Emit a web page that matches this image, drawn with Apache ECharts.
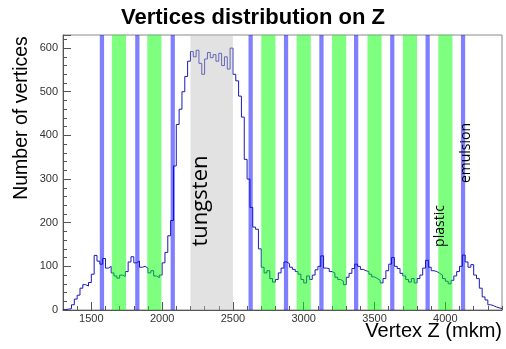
<!DOCTYPE html>
<html>
<head>
<meta charset="utf-8">
<script src="https://cdn.jsdelivr.net/npm/echarts@6/dist/echarts.min.js"></script>
<style>
  html, body { margin: 0; padding: 0; background: #fff; }
  #chart { width: 506px; height: 349px; }
</style>
</head>
<body>
<div id="chart"></div>
<script>
// histogram: bins of 20 mkm starting at 1300
const binLow = 1300;
const binWidth = 20;
const counts = [
  1, 2, 3, 12, 25, 34, 50, 58, 55, 63,
  82, 125, 112, 105, 118, 96, 100, 85, 78, 73,
  80, 77, 88, 110, 122, 108, 112, 98, 100, 96,
  85, 90, 78, 74, 80, 108, 132, 170, 205, 330,
  425, 460, 500, 535, 570, 592, 580, 595, 565, 540,
  575, 590, 578, 585, 570, 588, 560, 580, 552, 600,
  540, 525, 490, 442, 345, 300, 235, 190, 185, 140,
  98, 85, 90, 72, 64, 70, 85, 96, 110, 106,
  98, 93, 88, 82, 70, 62, 78, 70, 80, 92,
  100, 124, 96, 95, 88, 85, 75, 70, 66, 58,
  75, 84, 95, 105, 100, 93, 90, 88, 82, 76,
  72, 68, 62, 72, 90, 105, 120, 100, 95, 84,
  78, 70, 64, 72, 62, 72, 80, 96, 114, 98,
  90, 88, 84, 80, 72, 66, 60, 68, 78, 88,
  100, 126, 110, 98, 104, 80, 72, 50, 30, 23,
  12, 10, 7, 5, 3
];

// target layers (mkm)
const emulsion = [
  [1560, 1590], [1810, 1840], [2060, 2090], [2610, 2640], [2860, 2890],
  [3110, 3140], [3355, 3385], [3610, 3640], [3860, 3890], [4110, 4140]
];
const plastic = [
  [1645, 1745], [1895, 1995], [2700, 2800], [2950, 3050],
  [3200, 3300], [3450, 3550], [3700, 3800], [3950, 4050]
];
const tungsten = [[2200, 2500]];

const xLabels = [1500, 2000, 2500, 3000, 3500, 4000];
const xMinor = [];
for (let v = 1300; v <= 4400; v += 100) xMinor.push(v);

// step histogram points
const histData = counts.map((c, i) => [binLow + i * binWidth, c]);
histData.push([binLow + counts.length * binWidth, counts[counts.length - 1]]);

const bands = []
  .concat(tungsten.map(b => [b[0], b[1], 0]))
  .concat(plastic.map(b => [b[0], b[1], 1]))
  .concat(emulsion.map(b => [b[0], b[1], 2]));
const bandColors = ['rgba(190,190,190,0.45)', 'rgba(0,255,0,0.5)', 'rgba(0,0,255,0.5)'];

const yMax = 630;
let myChart = echarts.init(document.getElementById('chart'));
myChart.setOption({
  animation: false,
  title: {
    text: 'Vertices distribution on Z',
    left: 'center',
    top: 2,
    textStyle: {
      fontFamily: 'Liberation Sans',
      fontWeight: 'bold',
      fontSize: 22,
      color: '#000'
    }
  },
  grid: {
    left: 63,
    right: 4,
    top: 35,
    bottom: 39,
    show: true,
    borderColor: '#8a8a8a',
    borderWidth: 1
  },
  xAxis: [
    {
      type: 'value',
      min: 1300,
      max: 4400,
      axisLine: { show: true, lineStyle: { color: '#555' } },
      axisTick: {
        show: true,
        inside: true,
        length: 8,
        customValues: xLabels,
        lineStyle: { color: '#555' }
      },
      axisLabel: {
        customValues: xLabels,
        formatter: v => String(v),
        margin: 3,
        fontFamily: 'Liberation Sans',
        fontSize: 11,
        color: '#333'
      },
      splitLine: { show: false }
    },
    {
      type: 'value',
      min: 1300,
      max: 4400,
      position: 'bottom',
      axisLine: { show: false },
      axisTick: {
        show: true,
        inside: true,
        length: 4,
        customValues: xMinor,
        lineStyle: { color: '#555' }
      },
      axisLabel: { show: false },
      splitLine: { show: false }
    }
  ],
  yAxis: {
    type: 'value',
    min: 0,
    max: yMax,
    interval: 100,
    axisLine: { show: true, lineStyle: { color: '#555' } },
    axisTick: { show: true, inside: true, length: 8, lineStyle: { color: '#555' } },
    minorTick: { show: true, splitNumber: 5, length: 4, lineStyle: { color: '#555' } },
    axisLabel: {
      margin: 5,
      fontFamily: 'Liberation Sans',
      fontSize: 11,
      color: '#333',
      showMaxLabel: false
    },
    splitLine: { show: false }
  },
  series: [
    {
      name: 'vertices',
      type: 'line',
      step: 'end',
      symbol: 'none',
      z: 2,
      lineStyle: { color: '#1a1ab8', width: 1 },
      data: histData
    },
    {
      name: 'layers',
      type: 'custom',
      z: 3,
      silent: true,
      data: bands,
      renderItem: function (params, api) {
        const p0 = api.coord([api.value(0), yMax]);
        const p1 = api.coord([api.value(1), 0]);
        return {
          type: 'rect',
          shape: { x: p0[0], y: p0[1], width: p1[0] - p0[0], height: p1[1] - p0[1] },
          style: { fill: bandColors[api.value(2)] }
        };
      }
    }
  ],
  graphic: [
    {
      type: 'text',
      x: 22, y: 118, rotation: Math.PI / 2, z: 10,
      style: {
        text: 'Number of vertices', fontFamily: 'Liberation Sans', fontSize: 19.5,
        fill: '#000', align: 'center', verticalAlign: 'middle'
      }
    },
    {
      type: 'text',
      x: 502, y: 331, z: 10,
      style: {
        text: 'Vertex Z (mkm)', fontFamily: 'Liberation Sans', fontSize: 20,
        fill: '#000', align: 'right', verticalAlign: 'middle'
      }
    },
    {
      type: 'text',
      x: 201, y: 201, rotation: Math.PI / 2, z: 10,
      style: {
        text: 'tungsten', fontFamily: 'Open Sans', fontSize: 22,
        fill: '#000', align: 'center', verticalAlign: 'middle'
      }
    },
    {
      type: 'text',
      x: 440, y: 226, rotation: Math.PI / 2, z: 10,
      style: {
        text: 'plastic', fontFamily: 'Open Sans', fontSize: 14,
        fill: '#000', align: 'center', verticalAlign: 'middle'
      }
    },
    {
      type: 'text',
      x: 466, y: 153, rotation: Math.PI / 2, z: 10,
      style: {
        text: 'emulsion', fontFamily: 'Open Sans', fontSize: 14,
        fill: '#000', align: 'center', verticalAlign: 'middle'
      }
    }
  ]
});
</script>
</body>
</html>
